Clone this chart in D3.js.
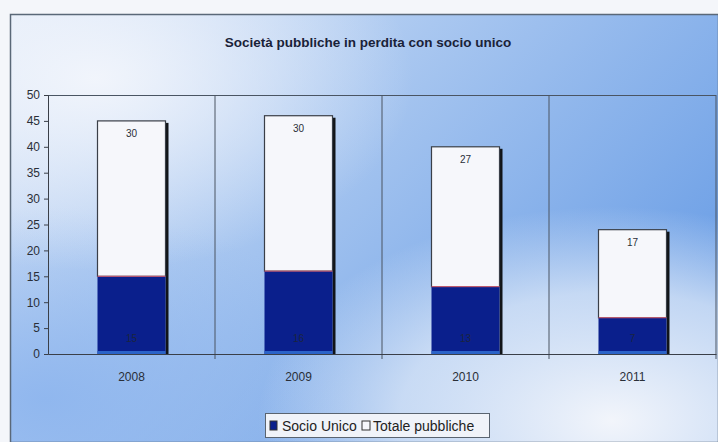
<!DOCTYPE html>
<html><head><meta charset="utf-8">
<script src="https://cdn.jsdelivr.net/npm/d3@7"></script>
<style>html,body{margin:0;padding:0;background:#f4f6fa;}svg{display:block;font-family:Arial,"Liberation Sans",sans-serif;}</style>
</head><body>
<script>
const years = ["2008","2009","2010","2011"];
const socioUnico = [15, 16, 13, 7];
const totalePubbliche = [30, 30, 27, 17];
const yTicks = [0,5,10,15,20,25,30,35,40,45,50];
const title = "Società pubbliche in perdita con socio unico";
const legendLabels = ["Socio Unico", "Totale pubbliche"];

const W = 718, H = 442;
const svg = d3.select("body").append("svg").attr("width", W).attr("height", H);
const defs = svg.append("defs");

// background gradients
const lg = defs.append("linearGradient").attr("id","bg").attr("x1","0").attr("y1","0").attr("x2","1").attr("y2","0.6");
lg.append("stop").attr("offset","0").attr("stop-color","#dfe9f8");
lg.append("stop").attr("offset","0.45").attr("stop-color","#a9c7f0");
lg.append("stop").attr("offset","1").attr("stop-color","#6c9fe6");
const r1 = defs.append("radialGradient").attr("id","glowTL").attr("cx","0.12").attr("cy","0.15").attr("r","0.45");
r1.append("stop").attr("offset","0").attr("stop-color","#f3f6fc").attr("stop-opacity","0.95");
r1.append("stop").attr("offset","1").attr("stop-color","#f3f6fc").attr("stop-opacity","0");
const r2 = defs.append("radialGradient").attr("id","glowBR").attr("cx","0.85").attr("cy","0.95").attr("r","0.5");
r2.append("stop").attr("offset","0").attr("stop-color","#f2f5fb").attr("stop-opacity","1");
r2.append("stop").attr("offset","0.6").attr("stop-color","#e6eef9").attr("stop-opacity","0.7");
r2.append("stop").attr("offset","1").attr("stop-color","#e6eef9").attr("stop-opacity","0");
const r3 = defs.append("radialGradient").attr("id","blueBL").attr("cx","0.05").attr("cy","0.9").attr("r","0.45");
r3.append("stop").attr("offset","0").attr("stop-color","#8db5ee").attr("stop-opacity","0.9");
r3.append("stop").attr("offset","1").attr("stop-color","#8db5ee").attr("stop-opacity","0");

const fx = 10, fy = 14;
svg.append("rect").attr("x",fx).attr("y",fy).attr("width",W-fx).attr("height",H-fy).attr("fill","url(#bg)");
svg.append("rect").attr("x",fx).attr("y",fy).attr("width",W-fx).attr("height",H-fy).attr("fill","url(#blueBL)");
svg.append("rect").attr("x",fx).attr("y",fy).attr("width",W-fx).attr("height",H-fy).attr("fill","url(#glowTL)");
svg.append("rect").attr("x",fx).attr("y",fy).attr("width",W-fx).attr("height",H-fy).attr("fill","url(#glowBR)");
svg.append("rect").attr("x",fx+0.5).attr("y",fy+0.5).attr("width",W-fx).attr("height",H-fy).attr("fill","none").attr("stroke","#5a6878").attr("stroke-width",1.5);

// title
svg.append("text").attr("x",368).attr("y",47).attr("text-anchor","middle")
  .attr("font-size",13.5).attr("font-weight","bold").attr("fill","#1a2238").text(title);

const m = {left:48, right:716, top:95, bottom:354};
const x = d3.scaleBand().domain(years).range([m.left, m.right]).paddingInner(0).paddingOuter(0);
const y = d3.scaleLinear().domain([0,50]).range([m.bottom, m.top]);

const g = svg.append("g");
// plot frame: top line + category separators
g.append("line").attr("x1",m.left).attr("x2",m.right).attr("y1",m.top+0.5).attr("y2",m.top+0.5).attr("stroke","#4a5563").attr("stroke-width",1);
years.forEach((yr,i)=>{
  const xx = x(yr) + x.bandwidth();
  g.append("line").attr("x1",xx).attr("x2",xx).attr("y1",m.top).attr("y2",m.bottom+5).attr("stroke","#4a5563").attr("stroke-width",1);
});

// bars
const bw = 68;
const stackData = years.map((yr,i)=>({yr, s:socioUnico[i], t:totalePubbliche[i]}));
const bars = g.selectAll("g.bar").data(stackData).join("g").attr("class","bar");
bars.append("rect").attr("x",d=>x(d.yr)+x.bandwidth()/2+bw/2).attr("y",d=>y(d.s+d.t)+2)
  .attr("width",3).attr("height",d=>m.bottom-y(d.s+d.t)-2).attr("fill","#111418");
bars.append("rect").attr("x",d=>x(d.yr)+x.bandwidth()/2-bw/2).attr("y",d=>y(d.s+d.t))
  .attr("width",bw).attr("height",d=>y(d.s)-y(d.s+d.t)).attr("fill","#f6f7fb").attr("stroke","#3a3f48").attr("stroke-width",1.2);
bars.append("rect").attr("x",d=>x(d.yr)+x.bandwidth()/2-bw/2).attr("y",d=>y(d.s))
  .attr("width",bw).attr("height",d=>m.bottom-y(d.s)).attr("fill","#0a1f8c");
bars.append("line").attr("x1",d=>x(d.yr)+x.bandwidth()/2-bw/2).attr("x2",d=>x(d.yr)+x.bandwidth()/2+bw/2)
  .attr("y1",d=>y(d.s)).attr("y2",d=>y(d.s)).attr("stroke","#d86070").attr("stroke-width",1);
bars.append("rect").attr("x",d=>x(d.yr)+x.bandwidth()/2-bw/2).attr("y",m.bottom-3)
  .attr("width",bw).attr("height",3).attr("fill","#2b63c8");
bars.append("text").attr("x",d=>x(d.yr)+x.bandwidth()/2).attr("y",d=>y(d.s+d.t)+16)
  .attr("text-anchor","middle").attr("font-size",10).attr("fill","#2a2f38").text(d=>d.t);
bars.append("text").attr("x",d=>x(d.yr)+x.bandwidth()/2).attr("y",m.bottom-12)
  .attr("text-anchor","middle").attr("font-size",10).attr("fill","#1a2440").text(d=>d.s);

// axes
const ya = d3.axisLeft(y).tickValues(yTicks).tickSize(4).tickPadding(4);
const yg = svg.append("g").attr("transform",`translate(${m.left},0)`).call(ya);
yg.select(".domain").attr("stroke","#3a3f48");
yg.selectAll(".tick line").attr("stroke","#3a3f48");
yg.selectAll("text").attr("font-size",12).attr("fill","#2a2f38").attr("font-family","Arial, 'Liberation Sans', sans-serif");

const xa = d3.axisBottom(x).tickSize(0).tickPadding(18);
const xg = svg.append("g").attr("transform",`translate(0,${m.bottom})`).call(xa);
xg.select(".domain").attr("stroke","#3a3f48").attr("stroke-width",1.2);
xg.selectAll("text").attr("font-size",12).attr("fill","#2a2f38").attr("font-family","Arial, 'Liberation Sans', sans-serif");

// legend
const lgG = svg.append("g").attr("transform","translate(265,413)");
lgG.append("rect").attr("x",0.5).attr("y",0.5).attr("width",224).attr("height",24).attr("fill","#f0f3f9").attr("stroke","#5a6470");
lgG.append("rect").attr("x",5).attr("y",8).attr("width",7).attr("height",9).attr("fill","#0a1f8c").attr("stroke","#333");
lgG.append("text").attr("x",17).attr("y",18).attr("font-size",14).attr("fill","#222").text(legendLabels[0]);
lgG.append("rect").attr("x",97).attr("y",8).attr("width",8).attr("height",9).attr("fill","#f6f7fb").attr("stroke","#333");
lgG.append("text").attr("x",108).attr("y",18).attr("font-size",14).attr("fill","#222").text(legendLabels[1]);
</script>
</body></html>
